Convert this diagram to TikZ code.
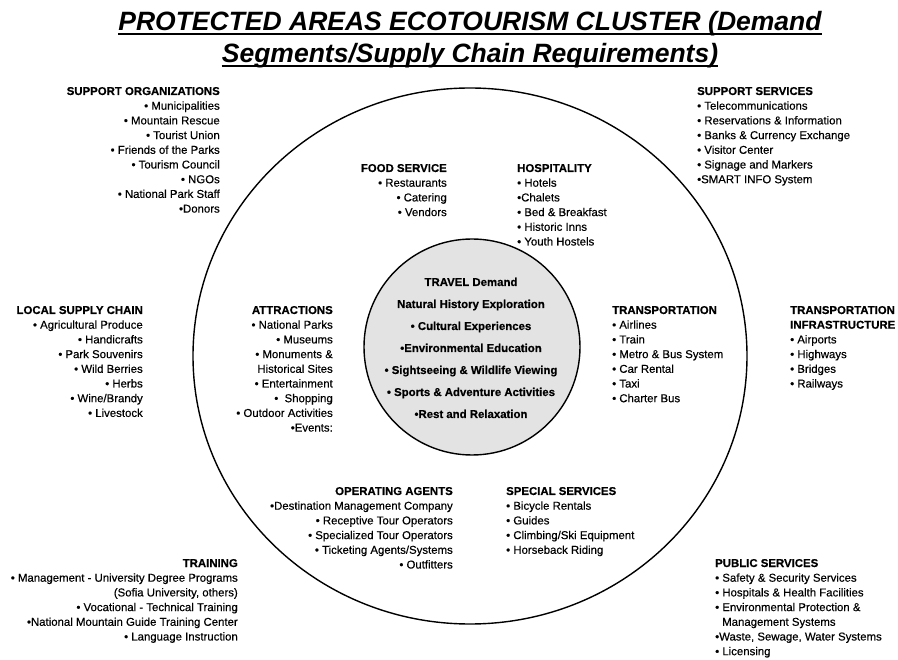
\documentclass[tikz,border=0pt]{standalone}
\usepackage{fontspec}
\setmainfont{Liberation Sans}[UprightFeatures={FakeBold=0.35},BoldFeatures={FakeBold=0.5}]
\begin{document}
\begin{tikzpicture}[x=1pt,y=-1pt,
  blk/.style={inner sep=0pt, font=\fontsize{11.4}{14.7}\selectfont},
  ctr/.style={inner sep=0pt, font=\bfseries\fontsize{11.4}{22}\selectfont},
  ttl/.style={inner sep=0pt, font=\bfseries\itshape\fontsize{26.5}{32}\selectfont},
  uline/.style={line width=2pt},
  ring/.style={draw=black, line width=1.4pt},
  core/.style={draw=black, line width=1.4pt, fill=gray!22}]
\useasboundingbox (0,0) rectangle (898,660);
\fill[white] (0,0) rectangle (898,660);
% circles
\draw[ring] (470,356) ellipse [x radius=277, y radius=268];
\draw[core] (472,347) circle [radius=108];
% title
\node[ttl, anchor=base] (t1) at (470,31) {PROTECTED AREAS ECOTOURISM CLUSTER (Demand};
\node[ttl, anchor=base] (t2) at (470,63) {Segments/Supply Chain Requirements)};
\draw[uline] ([yshift=-3pt]t1.base west) -- ([yshift=-3pt]t1.base east);
\draw[uline] ([yshift=-3pt]t2.base west) -- ([yshift=-3pt]t2.base east);
% blocks
\node[blk, anchor=base east] (suporg) at (220,95) {\begin{tabular}[t]{@{}r@{}}\textbf{SUPPORT ORGANIZATIONS}\\ • Municipalities\\ • Mountain Rescue\\ • Tourist Union\\ • Friends of the Parks\\ • Tourism Council\\ • NGOs\\ • National Park Staff\\ •Donors\hspace{3pt}\end{tabular}};
\node[blk, anchor=base west] (supserv) at (697,95) {\begin{tabular}[t]{@{}l@{}}\textbf{SUPPORT SERVICES}\\ • Telecommunications\\ • Reservations \& Information\\ • Banks \& Currency Exchange\\ • Visitor Center\\ • Signage and Markers\\ •SMART INFO System\end{tabular}};
\node[blk, anchor=base east] (food) at (447,172) {\begin{tabular}[t]{@{}r@{}}\textbf{FOOD SERVICE}\\ • Restaurants\\ • Catering\\ • Vendors\end{tabular}};
\node[blk, anchor=base west] (hosp) at (517,172) {\begin{tabular}[t]{@{}l@{}}\textbf{HOSPITALITY}\\ • Hotels\\ •Chalets\\ • Bed \& Breakfast\\ • Historic Inns\\ • Youth Hostels\end{tabular}};
\node[blk, anchor=base east] (local) at (143,314) {\begin{tabular}[t]{@{}r@{}}\textbf{LOCAL SUPPLY CHAIN}\\ • Agricultural Produce\\ • Handicrafts\\ • Park Souvenirs\\ • Wild Berries\\ • Herbs\\ • Wine/Brandy\\ • Livestock\end{tabular}};
\node[blk, anchor=base east] (attr) at (333,314) {\begin{tabular}[t]{@{}r@{}}\textbf{ATTRACTIONS}\\ • National Parks\\ • Museums\\ • Monuments \&\\ Historical Sites\\ • Entertainment\\ •\ \ Shopping\\ • Outdoor Activities\\ •Events:\end{tabular}};
\node[blk, anchor=base west] (trans) at (612,314) {\begin{tabular}[t]{@{}l@{}}\textbf{TRANSPORTATION}\\ • Airlines\\ • Train\\ • Metro \& Bus System\\ • Car Rental\\ • Taxi\\ • Charter Bus\end{tabular}};
\node[blk, anchor=base west] (infra) at (790,314) {\begin{tabular}[t]{@{}l@{}}\textbf{TRANSPORTATION}\\ \textbf{INFRASTRUCTURE}\\ • Airports\\ • Highways\\ • Bridges\\ • Railways\end{tabular}};
\node[ctr, anchor=base] (demand) at (471,286) {\begin{tabular}[t]{@{}c@{}}TRAVEL Demand\\ Natural History Exploration\\ • Cultural Experiences\\ •Environmental Education\\ • Sightseeing \& Wildlife Viewing\\ • Sports \& Adventure Activities\\ •Rest and Relaxation\end{tabular}};
\node[blk, anchor=base east] (oper) at (453,495) {\begin{tabular}[t]{@{}r@{}}\textbf{OPERATING AGENTS}\\ •Destination Management Company\\ • Receptive Tour Operators\\ • Specialized Tour Operators\\ • Ticketing Agents/Systems\\ • Outfitters\end{tabular}};
\node[blk, anchor=base west] (spec) at (506,495) {\begin{tabular}[t]{@{}l@{}}\textbf{SPECIAL SERVICES}\\ • Bicycle Rentals\\ • Guides\\ • Climbing/Ski Equipment\\ • Horseback Riding\end{tabular}};
\node[blk, anchor=base east] (train) at (238,567) {\begin{tabular}[t]{@{}r@{}}\textbf{TRAINING}\\ • Management - University Degree Programs\\ (Sofia University, others)\\ • Vocational - Technical Training\\ •National Mountain Guide Training Center\\ • Language Instruction\end{tabular}};
\node[blk, anchor=base west] (pub) at (715,567) {\begin{tabular}[t]{@{}l@{}}\textbf{PUBLIC SERVICES}\\ • Safety \& Security Services\\ • Hospitals \& Health Facilities\\ • Environmental Protection \&\\ \hspace{7pt}Management Systems\\ •Waste, Sewage, Water Systems\\ • Licensing\end{tabular}};
\end{tikzpicture}
\end{document}
